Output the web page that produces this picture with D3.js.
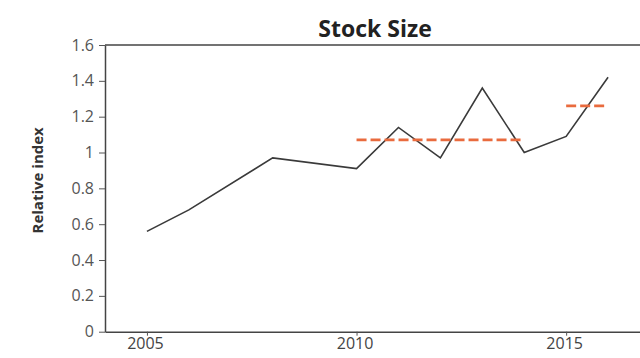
<!DOCTYPE html>
<html>
<head>
<meta charset="utf-8">
<script src="https://cdn.jsdelivr.net/npm/d3@7"></script>
<style>
  html, body { margin: 0; padding: 0; background: #fff; }
  svg { display: block; }
</style>
</head>
<body>
<svg id="chart" width="640" height="358"></svg>
<script>
// ---- data ----
const years  = [2005, 2006, 2008, 2010, 2011, 2012, 2013, 2014, 2015, 2016];
const index  = [0.56, 0.68, 0.97, 0.91, 1.14, 0.97, 1.36, 1.00, 1.09, 1.42];
const meanPeriods = [[2010, 2014], [2015, 2016]];
const meanValues  = [1.07, 1.26];
const xTicks = [2005, 2010, 2015];
const yTicks = [0, 0.2, 0.4, 0.6, 0.8, 1, 1.2, 1.4, 1.6];
const title = "Stock Size";
const yTitle = "Relative index";

(function () {
// ---- layout ----
const svg = d3.select("#chart");
const mLeft = 105, mRight = 650, mTop = 45, mBottom = 331.7;
const font = "'Open Sans', 'DejaVu Sans', sans-serif";

const x = d3.scaleLinear().domain([2004, 2017]).range([mLeft, mRight]);
const y = d3.scaleLinear().domain([0, 1.6]).range([mBottom, mTop]);

// frame top line
svg.append("line").attr("x1", mLeft).attr("x2", mRight).attr("y1", mTop).attr("y2", mTop)
  .attr("stroke", "#444").attr("stroke-width", 1.5);

// y axis
const yAxis = svg.append("g").attr("transform", `translate(${mLeft},0)`)
  .call(d3.axisLeft(y).tickValues(yTicks).tickSize(6).tickSizeOuter(0)
    .tickFormat(d => String(+d.toFixed(1))));
yAxis.select(".domain").attr("stroke", "#444").attr("stroke-width", 1.5);
yAxis.selectAll(".tick line").attr("stroke", "#555");
yAxis.selectAll(".tick text").attr("fill", "#555")
  .attr("font-family", font).attr("font-size", 16).attr("x", -11);

// x axis
const xAxis = svg.append("g").attr("transform", `translate(0,${mBottom})`)
  .call(d3.axisBottom(x).tickValues(xTicks).tickSize(4).tickSizeOuter(0).tickFormat(d3.format("d")));
xAxis.select(".domain").attr("stroke", "#444").attr("stroke-width", 1.5);
xAxis.selectAll(".tick line").attr("stroke", "#555");
xAxis.selectAll(".tick text").attr("fill", "#444")
  .attr("font-family", font).attr("font-size", 16).attr("y", 6).attr("dy", "0.71em").attr("dx", -2);

// series line
const pts = years.map((yr, i) => [yr, index[i]]);
svg.append("path").datum(pts)
  .attr("fill", "none").attr("stroke", "#3a3a3a").attr("stroke-width", 1.6)
  .attr("d", d3.line().x(d => x(d[0])).y(d => y(d[1])));

// mean dashed lines
meanPeriods.forEach((p, i) => {
  svg.append("line")
    .attr("x1", x(p[0])).attr("x2", x(p[1]))
    .attr("y1", y(meanValues[i])).attr("y2", y(meanValues[i]))
    .attr("stroke", "#e96b3e").attr("stroke-width", 2.8)
    .attr("stroke-dasharray", "10,4");
});

// title
svg.append("text").attr("x", 375).attr("y", 37).attr("text-anchor", "middle")
  .attr("font-family", font).attr("font-weight", "bold")
  .attr("font-size", 23).attr("fill", "#222").text(title);

// y title
svg.append("text").attr("transform", `translate(43,${(mTop + mBottom) / 2 - 8}) rotate(-90)`)
  .attr("text-anchor", "middle")
  .attr("font-family", font).attr("font-weight", "bold")
  .attr("font-size", 15).attr("fill", "#333").text(yTitle);
})();
</script>
</body>
</html>
